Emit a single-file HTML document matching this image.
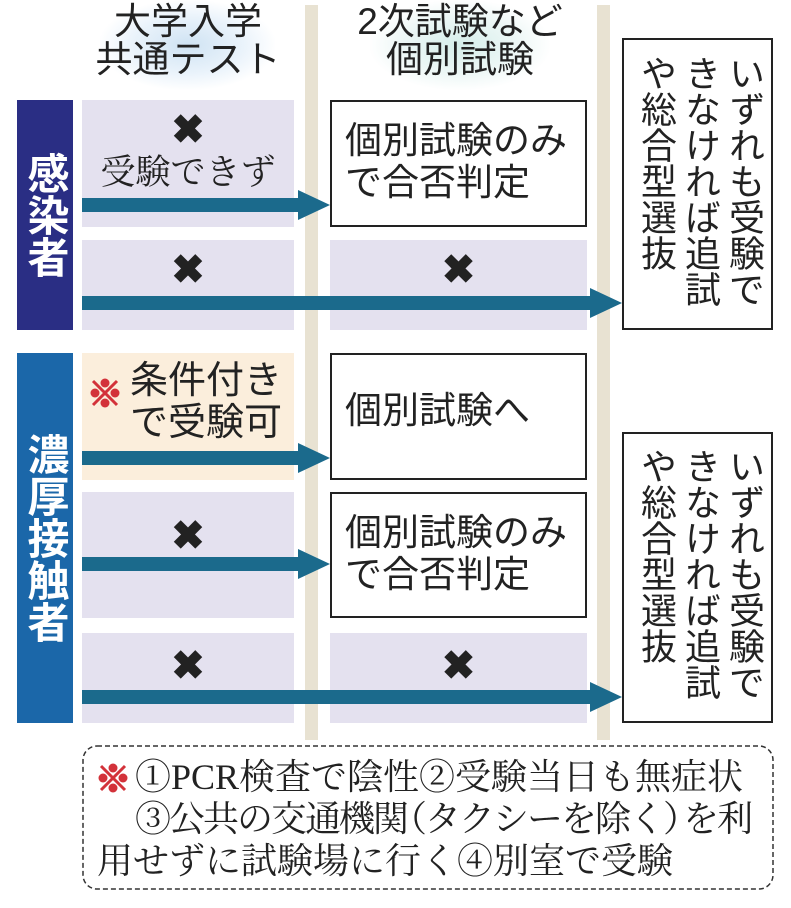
<!DOCTYPE html>
<html><head><meta charset="utf-8"><style>
body{margin:0;width:791px;height:908px;background:#fff;position:relative;overflow:hidden;font-family:"Liberation Sans","Noto Sans CJK JP",sans-serif;color:#222}
.a{position:absolute}
.lav{background:#e4e1ef}
.box{background:#fff;border:2.5px solid #222;box-sizing:border-box}
.div{background:#e8e2d2;width:13px;top:5px;height:735px}
.x{font-size:40px;font-weight:bold;line-height:1;text-align:center}
.t{font-size:37px;line-height:42px;white-space:nowrap}
.v{writing-mode:vertical-rl;font-size:36px;line-height:44px;white-space:nowrap}
.bar{color:#fff;font-weight:bold;font-size:42px;writing-mode:vertical-rl;display:flex;align-items:center;justify-content:center;line-height:1}
.serif{font-family:"Liberation Serif","Noto Serif CJK JP","Noto Serif CJK SC",serif}
</style></head><body>
<div class="a" style="left:100px;top:0;width:175px;height:90px;background:radial-gradient(ellipse at center,#cfe3f3 0%,rgba(220,235,248,0.6) 45%,rgba(255,255,255,0) 72%)"></div>
<div class="a" style="left:370px;top:0;width:180px;height:90px;background:radial-gradient(ellipse at center,#d5eeea 0%,rgba(225,242,240,0.6) 45%,rgba(255,255,255,0) 72%)"></div>
<div class="a div" style="left:305px"></div>
<div class="a div" style="left:597px"></div>
<div class="a t" style="left:80px;top:3px;width:216px;text-align:center;font-size:37px;line-height:38px">大学入学<br>共通テスト</div>
<div class="a t" style="left:325px;top:3px;width:270px;text-align:center;font-size:37px;line-height:38px">2次試験など<br>個別試験</div>

<div class="a bar" style="left:17px;top:100px;width:56px;height:230px;background:#2a2e84">感染者</div>
<div class="a bar" style="left:17px;top:353px;width:56px;height:370px;background:#1b67a9">濃厚接触者</div>

<div class="a lav" style="left:82px;top:100px;width:212px;height:127px"></div>
<div class="a x" style="left:82px;top:110px;width:212px">✖</div>
<div class="a t serif" style="left:82px;top:152px;width:212px;text-align:center;font-size:35px">受験できず</div>
<div class="a box" style="left:330px;top:100px;width:257px;height:127px"></div>
<div class="a t" style="left:345px;top:120px">個別試験のみ<br>で合否判定</div>

<div class="a lav" style="left:82px;top:240px;width:212px;height:90px"></div>
<div class="a lav" style="left:330px;top:240px;width:257px;height:90px"></div>
<div class="a x" style="left:82px;top:250px;width:212px">✖</div>
<div class="a x" style="left:330px;top:250px;width:257px">✖</div>

<div class="a box" style="left:622px;top:38px;width:151px;height:292px"></div>
<div class="a v" style="left:634px;top:55px;height:270px">いずれも受験で<br>きなければ追試<br>や総合型選抜</div>

<div class="a" style="left:82px;top:353px;width:212px;height:127px;background:#fbeedc"></div>
<div class="a t" style="left:130px;top:360px;font-size:38px;line-height:42px">条件付き<br>で受験可</div>
<div class="a box" style="left:330px;top:353px;width:257px;height:127px"></div>
<div class="a t" style="left:345px;top:390px">個別試験へ</div>

<div class="a lav" style="left:82px;top:492px;width:212px;height:126px"></div>
<div class="a x" style="left:82px;top:516px;width:212px">✖</div>
<div class="a box" style="left:330px;top:492px;width:257px;height:126px"></div>
<div class="a t" style="left:345px;top:512px">個別試験のみ<br>で合否判定</div>

<div class="a lav" style="left:82px;top:633px;width:212px;height:90px"></div>
<div class="a lav" style="left:330px;top:633px;width:257px;height:90px"></div>
<div class="a x" style="left:82px;top:646px;width:212px">✖</div>
<div class="a x" style="left:330px;top:646px;width:257px">✖</div>

<div class="a box" style="left:622px;top:432px;width:151px;height:291px"></div>
<div class="a v" style="left:634px;top:448px;height:270px">いずれも受験で<br>きなければ追試<br>や総合型選抜</div>

<svg class="a" style="left:0;top:0" width="791" height="908">
<g fill="#1b6a8c">
<rect x="82" y="198" width="218" height="14"/><polygon points="298,190 330,205 298,220"/>
<rect x="82" y="296" width="510" height="14"/><polygon points="590,288 622,303 590,318"/>
<rect x="82" y="451" width="218" height="14"/><polygon points="298,443 330,458 298,473"/>
<rect x="82" y="557" width="218" height="14"/><polygon points="298,549 330,564 298,579"/>
<rect x="82" y="690" width="510" height="14"/><polygon points="590,682 622,697 590,712"/>
</g>
<rect x="83" y="746" width="690" height="143" rx="14" fill="none" stroke="#333" stroke-width="1.5" stroke-dasharray="5,3"/>
<g fill="#d3323a" stroke="#d3323a">
<g transform="translate(105,393)"><line x1="-12" y1="-12" x2="12" y2="12" stroke-width="3"/><line x1="12" y1="-12" x2="-12" y2="12" stroke-width="3"/><circle cx="0" cy="-10" r="4.5" stroke="none"/><circle cx="0" cy="10" r="4.5" stroke="none"/><circle cx="-10" cy="0" r="4.5" stroke="none"/><circle cx="10" cy="0" r="4.5" stroke="none"/></g>
<g transform="translate(113,778)"><line x1="-12" y1="-12" x2="12" y2="12" stroke-width="3"/><line x1="12" y1="-12" x2="-12" y2="12" stroke-width="3"/><circle cx="0" cy="-10" r="4.5" stroke="none"/><circle cx="0" cy="10" r="4.5" stroke="none"/><circle cx="-10" cy="0" r="4.5" stroke="none"/><circle cx="10" cy="0" r="4.5" stroke="none"/></g>
</g>
</svg>
<div class="a t serif" style="left:135px;top:756px;font-size:36px;line-height:42px">①PCR検査で陰性②受験当日も無症状</div>
<div class="a t serif" style="left:135px;top:798px;font-size:36px;line-height:42px;letter-spacing:-2px">③公共の交通機関<span style="margin-left:-16px">（</span>タクシーを除く<span style="margin-right:-14px">）</span>を利</div>
<div class="a t serif" style="left:97px;top:840px;font-size:36px;line-height:42px">用せずに試験場に行く④別室で受験</div>
</body></html>
